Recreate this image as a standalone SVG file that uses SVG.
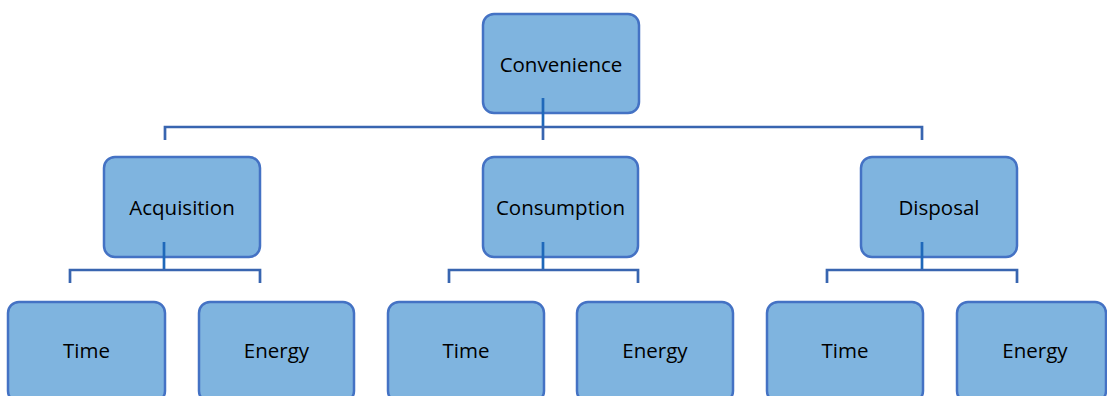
<svg xmlns="http://www.w3.org/2000/svg" width="1107" height="396" viewBox="0 0 1107 396">
<style>
.box{fill:#7FB4DF;stroke:#4472C4;stroke-width:2.5}
.lbl{font-family:"Open Sans","Noto Sans",sans-serif;font-size:20.5px;fill:#000;text-anchor:middle;dominant-baseline:central}
.con{fill:none;stroke:#3865B0;stroke-width:2.7}
.stub{fill:none;stroke:#1F68BA;stroke-width:2.7}
</style>
<rect width="1107" height="396" fill="#fff"/>
<g id="convenience"><rect class="box" x="483" y="14" width="156" height="99" rx="11"/><text class="lbl" x="561" y="64">Convenience</text></g>
<g id="acquisition"><rect class="box" x="104" y="157" width="156" height="100" rx="11"/><text class="lbl" x="182" y="207">Acquisition</text></g>
<g id="consumption"><rect class="box" x="483" y="157" width="155" height="100" rx="11"/><text class="lbl" x="560.5" y="207">Consumption</text></g>
<g id="disposal"><rect class="box" x="861" y="157" width="156" height="100" rx="11"/><text class="lbl" x="939" y="207">Disposal</text></g>
<g id="acq-time"><rect class="box" x="8" y="302" width="157" height="100" rx="11"/><text class="lbl" x="86.5" y="350">Time</text></g>
<g id="acq-energy"><rect class="box" x="199" y="302" width="155" height="100" rx="11"/><text class="lbl" x="276.5" y="350">Energy</text></g>
<g id="con-time"><rect class="box" x="388" y="302" width="156" height="100" rx="11"/><text class="lbl" x="466" y="350">Time</text></g>
<g id="con-energy"><rect class="box" x="577" y="302" width="156" height="100" rx="11"/><text class="lbl" x="655" y="350">Energy</text></g>
<g id="dis-time"><rect class="box" x="767" y="302" width="156" height="100" rx="11"/><text class="lbl" x="845" y="350">Time</text></g>
<g id="dis-energy"><rect class="box" x="957" y="302" width="149" height="100" rx="11"/><text class="lbl" x="1035" y="350">Energy</text></g>
<g id="connectors">
<path class="stub" d="M543 98V127"/>
<path class="con" d="M165 140V127H922V140M543 127V140"/>
<path class="stub" d="M164 242V270M543 242V270M922 242V270"/>
<path class="con" d="M70 283V270H260V283M449 283V270H638V283M827 283V270H1017V283"/>
</g>
</svg>
